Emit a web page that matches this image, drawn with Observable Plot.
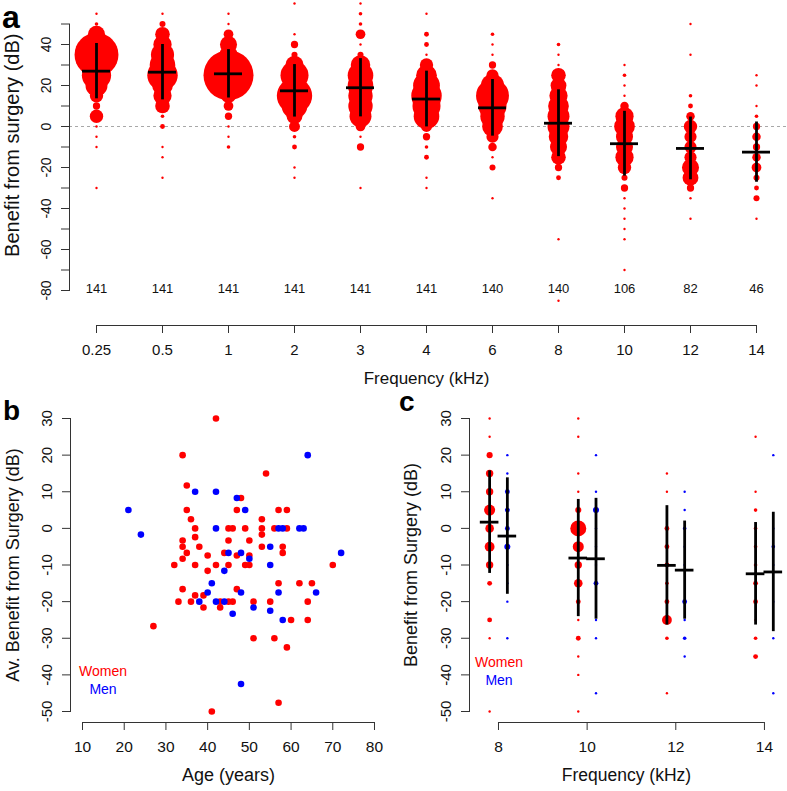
<!DOCTYPE html>
<html><head><meta charset="utf-8">
<script src="https://cdn.jsdelivr.net/npm/d3@7"></script>
<script src="https://cdn.jsdelivr.net/npm/@observablehq/plot@0.6"></script>
<style>
body{margin:0;background:#fff;font-family:"Liberation Sans",Arial,sans-serif;}
#fig{position:relative;width:787px;height:791px;overflow:hidden;background:#fff;}
.panel{position:absolute;}
.panel svg{overflow:visible;}
.letter{position:absolute;font-weight:bold;color:#000;line-height:0.8;font-family:"Liberation Sans",Arial,sans-serif;}
</style></head><body><div id="fig"></div>
<script>
// ---------- Panel a data ----------
const freqLabels = ["0.25","0.5","1","2","3","4","6","8","10","12","14"];
const earCounts  = [141,141,141,141,141,141,140,140,106,82,46];
const meanBenefit = [27, 26.5, 25.7, 17.4, 18.9, 13.4, 9.1, 1.6, -8.4, -10.7, -12.5];
const sdBenefit   = [13.5, 13.5, 11.8, 12.8, 14.2, 13.6, 13.8, 16.3, 15.8, 15.3, 14.7];
// [benefit (dB), number of ears]
const dist025 = [[55,1],[50,2],[45,13],[40,10],[35,35],[30,11],[25,23],[20,17],[15,10],[10,5],[5,10],[0,1],[-5,1],[-10,1],[-30,1]];
const dist05  = [[55,1],[50,4],[45,11],[40,14],[35,18],[30,20],[25,24],[20,16],[15,14],[10,11],[5,2],[0,3],[-10,1],[-15,1],[-25,1]];
const dist1   = [[55,1],[50,1],[45,7],[40,13],[35,14],[30,20],[25,40],[20,18],[15,11],[10,7],[5,5],[0,1],[-5,1],[-10,2]];
const dist2   = [[60,1],[45,1],[40,5],[35,4],[30,14],[25,22],[20,19],[15,28],[10,20],[5,12],[0,8],[-5,2],[-10,3],[-20,1],[-25,1]];
const dist3   = [[60,1],[55,2],[50,2],[45,7],[40,1],[35,4],[30,15],[25,20],[20,20],[15,19],[10,19],[5,17],[0,7],[-5,1],[-10,5],[-30,1]];
const dist4   = [[55,1],[45,3],[40,3],[35,1],[30,10],[25,16],[20,21],[15,24],[10,22],[5,20],[0,8],[-5,5],[-10,2],[-15,3],[-25,1],[-30,1]];
const dist6   = [[45,2],[40,1],[35,1],[30,5],[25,9],[20,18],[15,26],[10,22],[5,19],[0,16],[-5,9],[-10,6],[-15,1],[-20,4],[-35,1]];
const dist8   = [[40,2],[35,1],[30,1],[25,11],[20,12],[15,14],[10,16],[5,17],[0,17],[-5,15],[-10,13],[-15,11],[-20,5],[-25,3],[-55,1],[-85,1]];
const dist10  = [[30,1],[25,2],[20,1],[15,1],[10,6],[5,14],[0,16],[-5,13],[-10,13],[-15,14],[-20,10],[-25,4],[-30,5],[-35,1],[-40,1],[-45,1],[-50,1],[-55,1],[-70,1]];
const dist12  = [[50,1],[35,1],[15,2],[10,3],[5,6],[0,10],[-5,9],[-10,9],[-15,9],[-20,13],[-25,12],[-30,5],[-35,1],[-45,1]];
const dist14  = [[25,1],[20,1],[10,1],[5,2],[0,5],[-5,6],[-10,5],[-15,6],[-20,7],[-25,4],[-30,3],[-35,4],[-45,1]];
const distributions = [dist025, dist05, dist1, dist2, dist3, dist4, dist6, dist8, dist10, dist12, dist14];
const yTicksA = [-80,-70,-60,-50,-40,-30,-20,-10,0,10,20,30,40,50];

// ---------- Panel b data ----------
const womenAge = [42,34,54,35,48,35,47,57,59,36,53,37,45,46,49,53,56,59,53,37,34,45,50,34,38,53,58,35,44,58,47,40,50,34,32,37,42,45,49,50,70,40,57,62,65,34,47,37,39,33,36,43,45,46,51,55,64,39,43,60,64,27,51,56,59,57,41];
const womenAvBenefit = [30,20,15,11.7,8.3,5,5,5,5,2.5,2.5,0,0,0,0,0,0,0,-1.7,-2.4,-3.3,-3.3,-3.3,-5,-5,-5,-5,-6.7,-6.7,-6.7,-7.4,-7.4,-7.4,-8.3,-10,-10,-10,-10,-10,-10,-10,-11.6,-15,-15,-15,-16.6,-16.6,-18.3,-18.3,-20,-20,-20,-20,-20,-20,-20,-20,-21.6,-21.6,-25,-25,-26.7,-30,-30,-32.5,-47.6,-50];
const menAge = [21,24,37,42,47,49,42,57,58,62,63,55,45,48,72,50,55,44,41,40,48,57,66,38,42,44,46,51,55,58,64,48];
const menAvBenefit = [5,-1.7,10,10,8.3,5,0,0,0,0,0,-5,-6.7,-6.7,-6.7,-8.3,-10,-11.6,-15,-17.5,-17.5,-17.5,-17.5,-20,-20,-20,-23.3,-21.6,-22.5,-25,20,-42.5];
const ageTicks = [10,20,30,40,50,60,70,80];
const benefitTicksBC = [-50,-40,-30,-20,-10,0,10,20,30];

// ---------- Panel c data ----------
const cFreqs = [8,10,12,14];
const women8  = [[30,1],[25,1],[20,4],[15,5],[10,5],[5,8],[0,6],[-5,7],[-10,5],[-15,3],[-25,3],[-30,1],[-50,1]];
const men8    = [[20,1],[15,1],[10,3],[5,3],[0,3],[-5,4],[-10,1],[-15,1],[-20,1],[-30,1]];
const women10 = [[30,1],[25,1],[15,1],[10,1],[5,4],[0,12],[-5,8],[-10,5],[-15,6],[-20,3],[-25,1],[-30,3],[-35,1],[-40,1],[-50,1]];
const men10   = [[20,1],[10,1],[5,4],[0,1],[-5,1],[-10,1],[-15,3],[-25,1],[-30,1],[-45,1]];
const women12 = [[15,1],[10,1],[0,3],[-5,3],[-10,3],[-15,2],[-20,3],[-25,7],[-30,2],[-45,1]];
const men12   = [[10,1],[5,1],[0,2],[-5,1],[-10,1],[-20,3],[-25,1],[-30,2],[-35,1]];
const women14 = [[25,1],[10,1],[5,2],[0,2],[-5,2],[-10,2],[-15,3],[-20,3],[-25,1],[-30,2],[-35,3]];
const men14   = [[20,1],[0,1],[-5,2],[-10,1],[-20,1],[-30,1],[-45,1]];
const womenDist = [women8, women10, women12, women14];
const menDist = [men8, men10, men12, men14];
const womenMean = [1.7, -8.1, -10.1, -12.4];
const womenSD   = [14.0, 16.0, 16.3, 14.0];
const menMean   = [-2.1, -8.3, -11.4, -11.9];
const menSD     = [15.9, 16.5, 13.4, 16.3];

// ---------- styling ----------
const RED = "#ff0000", BLUE = "#0000ff", INK = "#111", AXIS = "#333";
const FONT = '"Liberation Sans", Arial, Helvetica, sans-serif';
const fig = document.getElementById("fig");
function place(node, left, top) {
  const d = document.createElement("div");
  d.className = "panel"; d.style.left = left + "px"; d.style.top = top + "px";
  d.appendChild(node); fig.appendChild(d);
}
function letter(t, left, top, size) {
  const d = document.createElement("div");
  d.className = "letter"; d.textContent = t;
  d.style.left = left + "px"; d.style.top = top + "px"; d.style.fontSize = size + "px";
  fig.appendChild(d);
}

// ---------- Panel a ----------
const panelA = freqLabels.flatMap((f, i) => distributions[i].map(([v, n]) => ({freq: f, value: v, count: n})));
const statsA = freqLabels.map((f, i) => ({freq: f, n: String(earCounts[i]), mean: meanBenefit[i],
  lo: meanBenefit[i] - sdBenefit[i], hi: meanBenefit[i] + sdBenefit[i]}));
const A = {width: 787, height: 400, mt: 23.5, mb: 110, ml: 69, mr: 4, pi: 0.576, po: 0.197};
const stepA = (A.width - A.ml - A.mr) / (freqLabels.length - A.pi + 2 * A.po);
const bwA = stepA * (1 - A.pi);

const plotA = Plot.plot({
  width: A.width, height: A.height,
  marginTop: A.mt, marginBottom: A.mb, marginLeft: A.ml, marginRight: A.mr,
  style: {fontFamily: FONT, fontSize: "14px", background: "transparent", color: INK, overflow: "visible"},
  x: {type: "band", domain: freqLabels, paddingInner: A.pi, paddingOuter: A.po, align: 0.5},
  y: {domain: [yTicksA[0], yTicksA[yTicksA.length - 1]]},
  r: {type: "linear", domain: [1, 40], range: [1.2, 25]},
  marks: [
    Plot.ruleY([0], {stroke: "#a8a8a8", strokeDasharray: "3,3", strokeWidth: 1.2, insetRight: -4}),
    Plot.dot(panelA, {x: "freq", y: "value", r: "count", fill: RED}),
    Plot.ruleX(statsA, {x: "freq", y1: "lo", y2: "hi", stroke: "#000", strokeWidth: 2.8}),
    Plot.tickY(statsA, {x: "freq", y: "mean", stroke: "#000", strokeWidth: 2.8}),
    Plot.text(statsA, {x: "freq", text: "n", frameAnchor: "bottom", dy: 2, fontSize: 13, fill: INK}),
    Plot.frame({anchor: "left", stroke: AXIS}),
    Plot.axisY(yTicksA, {tickSize: 8, tickPadding: 11, tickRotate: -90, label: null, stroke: AXIS, fontSize: 14,
      tickFormat: d => (d % 20 === 0 ? String(d) : "")}),
    Plot.ruleY([yTicksA[0]], {x1: [freqLabels[0]], x2: [freqLabels[freqLabels.length - 1]], dy: 35,
      insetLeft: bwA / 2, insetRight: bwA / 2, stroke: AXIS}),
    Plot.axisX(freqLabels, {dy: 35, tickSize: 8, tickPadding: 11, label: null, stroke: AXIS, fontSize: 15}),
    Plot.text(["Frequency (kHz)"], {text: d => d, frameAnchor: "bottom", dy: 93, fontSize: 17, fill: INK}),
    Plot.text(["Benefit from surgery (dB)"], {text: d => d, frameAnchor: "left", textAnchor: "middle", rotate: -90,
      dx: -56.5, dy: -12, fontSize: 20, fill: INK})
  ]
});
place(plotA, 0, 0);

// ---------- Panel b ----------
const women = womenAge.map((a, i) => ({age: a, benefit: womenAvBenefit[i]}));
const men = menAge.map((a, i) => ({age: a, benefit: menAvBenefit[i]}));
const plotB = Plot.plot({
  width: 390, height: 396,
  marginTop: 23, marginBottom: 80, marginLeft: 70, marginRight: 4,
  style: {fontFamily: FONT, fontSize: "15px", background: "transparent", color: INK, overflow: "visible"},
  x: {domain: [7.12, 82.88]},
  y: {domain: [benefitTicksBC[0], benefitTicksBC[benefitTicksBC.length - 1]]},
  marks: [
    Plot.frame({anchor: "left", stroke: AXIS}),
    Plot.axisY(benefitTicksBC, {tickSize: 8, tickPadding: 11, tickRotate: -90, label: null, stroke: AXIS, fontSize: 15, tickFormat: d => String(d)}),
    Plot.ruleY([benefitTicksBC[0]], {x1: [ageTicks[0]], x2: [ageTicks[ageTicks.length - 1]], dy: 11, stroke: AXIS}),
    Plot.axisX(ageTicks, {dy: 11, tickSize: 8, tickPadding: 10, label: null, stroke: AXIS, fontSize: 15.5, tickFormat: d => String(d)}),
    Plot.dot(women, {x: "age", y: "benefit", r: 3.3, fill: RED}),
    Plot.dot(men, {x: "age", y: "benefit", r: 3.3, fill: BLUE}),
    Plot.text(["Women"], {text: d => d, frameAnchor: "bottom-left", textAnchor: "middle", dx: 32.5, dy: -36, fill: RED, fontSize: 14}),
    Plot.text(["Men"], {text: d => d, frameAnchor: "bottom-left", textAnchor: "middle", dx: 32.5, dy: -18, fill: BLUE, fontSize: 14}),
    Plot.text(["Age (years)"], {text: d => d, frameAnchor: "bottom", dy: 69, fontSize: 18, fill: INK}),
    Plot.text(["Av. Benefit from Surgery (dB)"], {text: d => d, frameAnchor: "left", textAnchor: "middle", rotate: -90, dx: -57.5, fontSize: 18, fill: INK})
  ]
});
place(plotB, 0, 395);

// ---------- Panel c ----------
const offsets = {Women: -0.2, Men: 0.2};
const cDots = cFreqs.flatMap((f, i) => [
  ...womenDist[i].map(([v, n]) => ({x: f + offsets.Women, value: v, count: n, sex: "Women"})),
  ...menDist[i].map(([v, n]) => ({x: f + offsets.Men, value: v, count: n, sex: "Men"}))
]);
const cStats = cFreqs.flatMap((f, i) => [
  {x: f + offsets.Women, mean: womenMean[i], lo: womenMean[i] - womenSD[i], hi: womenMean[i] + womenSD[i]},
  {x: f + offsets.Men, mean: menMean[i], lo: menMean[i] - menSD[i], hi: menMean[i] + menSD[i]}
]);
const plotC = Plot.plot({
  width: 397, height: 396,
  marginTop: 23, marginBottom: 80, marginLeft: 79, marginRight: 4,
  style: {fontFamily: FONT, fontSize: "15px", background: "transparent", color: INK, overflow: "visible"},
  x: {domain: [7.346, 14.43]},
  y: {domain: [benefitTicksBC[0], benefitTicksBC[benefitTicksBC.length - 1]]},
  r: {type: "linear", domain: [1, 12], range: [1.2, 8.0]},
  color: {domain: ["Women", "Men"], range: [RED, BLUE]},
  marks: [
    Plot.frame({anchor: "left", stroke: AXIS}),
    Plot.axisY(benefitTicksBC, {tickSize: 8, tickPadding: 11, tickRotate: -90, label: null, stroke: AXIS, fontSize: 15, tickFormat: d => String(d)}),
    Plot.ruleY([benefitTicksBC[0]], {x1: [cFreqs[0]], x2: [cFreqs[cFreqs.length - 1]], dy: 11, stroke: AXIS}),
    Plot.axisX(cFreqs, {dy: 11, tickSize: 8, tickPadding: 10, label: null, stroke: AXIS, fontSize: 15.5, tickFormat: d => String(d)}),
    Plot.dot(cDots, {x: "x", y: "value", r: "count", fill: "sex"}),
    Plot.ruleX(cStats, {x: "x", y1: "lo", y2: "hi", stroke: "#000", strokeWidth: 2.8}),
    Plot.ruleY(cStats, {y: "mean", x1: d => d.x - 0.21, x2: d => d.x + 0.21, stroke: "#000", strokeWidth: 2.8}),
    Plot.text(["Women"], {text: d => d, frameAnchor: "bottom-left", textAnchor: "middle", dx: 29.5, dy: -45, fill: RED, fontSize: 14}),
    Plot.text(["Men"], {text: d => d, frameAnchor: "bottom-left", textAnchor: "middle", dx: 29.5, dy: -27, fill: BLUE, fontSize: 14}),
    Plot.text(["Frequency (kHz)"], {text: d => d, frameAnchor: "bottom", dy: 69, fontSize: 17.5, fill: INK}),
    Plot.text(["Benefit from Surgery (dB)"], {text: d => d, frameAnchor: "left", textAnchor: "middle", rotate: -90, dx: -58.5, fontSize: 18, fill: INK})
  ]
});
place(plotC, 390, 395);

letter("a", 2, 5, 32);
letter("b", 3, 400, 28);
letter("c", 399, 391, 28);
</script></body></html>
